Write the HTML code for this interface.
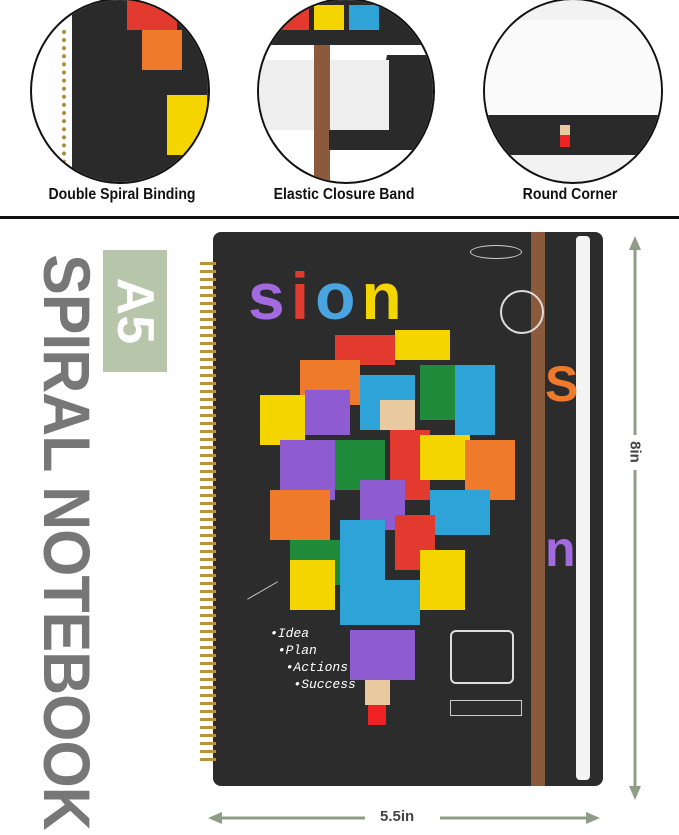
<!DOCTYPE html>
<html><head><style>
body{margin:0;width:679px;height:835px;background:#fff;position:relative;overflow:hidden;font-family:"Liberation Sans",sans-serif}
.a{position:absolute}
.c{position:absolute;border:2px solid #111;border-radius:50%;overflow:hidden;background:#2b2b2b}
.lab{position:absolute;top:186px;font-weight:bold;font-size:16px;color:#111;width:230px;text-align:center;transform:scaleX(0.88)}
.b{position:absolute}
</style></head><body>
<div class="c" style="left:30px;top:-2px;width:176px;height:182px;background:#fff">
 <div class="a" style="left:40px;top:0;width:140px;height:182px;background:#2a2a2a"></div>
 <div class="a" style="left:110px;top:30px;width:40px;height:40px;background:#f07a2c"></div>
 <div class="a" style="left:95px;top:0;width:50px;height:30px;background:#e23a2e"></div>
 <div class="a" style="left:135px;top:95px;width:40px;height:60px;background:#f4d500"></div>
 <div class="a" style="left:30px;top:30px;width:18px;height:150px;border-left:4px dotted #b08a3a"></div>
</div>
<div class="c" style="left:257px;top:-2px;width:174px;height:182px;background:#fff">
 <div class="a" style="left:0;top:0;width:174px;height:45px;background:#2a2a2a"></div>
 <div class="a" style="left:20px;top:5px;width:30px;height:25px;background:#e23a2e"></div>
 <div class="a" style="left:55px;top:5px;width:30px;height:25px;background:#f4d500"></div>
 <div class="a" style="left:90px;top:5px;width:30px;height:25px;background:#2ea3d8"></div>
 <div class="a" style="left:120px;top:55px;width:60px;height:90px;background:#2a2a2a;transform:skewX(-10deg)"></div>
 <div class="a" style="left:0;top:60px;width:130px;height:70px;background:#eee"></div>
 <div class="a" style="left:55px;top:45px;width:16px;height:140px;background:#8a5a3a"></div>
 <div class="a" style="left:70px;top:130px;width:90px;height:20px;background:#2a2a2a"></div>
</div>
<div class="c" style="left:483px;top:-2px;width:176px;height:182px;background:#f2f2f2">
 <div class="a" style="left:0;top:20px;width:176px;height:95px;background:#fafafa;border-bottom:3px solid #ccc"></div>
 <div class="a" style="left:0;top:115px;width:176px;height:40px;background:#2a2a2a"></div>
 <div class="a" style="left:75px;top:125px;width:10px;height:10px;background:#e8c9a0"></div>
 <div class="a" style="left:75px;top:135px;width:10px;height:12px;background:#e22"></div>
</div>
<div class="lab" style="left:7px">Double Spiral Binding</div>
<div class="lab" style="left:229px">Elastic Closure Band</div>
<div class="lab" style="left:455px">Round Corner</div>
<div class="a" style="left:0;top:216px;width:679px;height:3px;background:#111"></div>

<div class="a" style="left:103px;top:250px;width:64px;height:122px;background:#b7c6ab"></div>
<div class="a" style="left:135px;top:311px;transform:translate(-50%,-50%) rotate(90deg);font-weight:bold;font-size:52px;color:#fff;white-space:nowrap">A5</div>
<div class="a" style="left:67px;top:542px;transform:translate(-50%,-50%) rotate(90deg) scaleX(0.92);font-weight:bold;font-size:66px;color:#777;white-space:nowrap;letter-spacing:-1px">SPIRAL NOTEBOOK</div>

<div class="a" style="left:213px;top:232px;width:390px;height:554px;background:#2c2c2c;border-radius:8px"></div>
<div class="a" style="left:576px;top:236px;width:14px;height:544px;background:#f4f4f4;border-radius:4px"></div>
<div class="a" style="left:200px;top:262px;width:16px;height:500px;background:repeating-linear-gradient(#b8923e 0 3px,transparent 3px 8px)"></div>
<div class="a" style="left:531px;top:232px;width:14px;height:554px;background:#8b5a3a"></div>
<div class="a" style="left:248px;top:258px;font-weight:bold;font-size:66px;white-space:nowrap;letter-spacing:6px"><span style="color:#a36ae0">s</span><span style="color:#e23a2e">i</span><span style="color:#4aa4e0">o</span><span style="color:#f4d500">n</span></div>
<div class="a" style="left:545px;top:355px;font-weight:bold;font-size:50px;color:#f07a2c">S</div>
<div class="a" style="left:545px;top:520px;font-weight:bold;font-size:50px;color:#a36ae0">n</div>
<!-- blocks -->
<div class="b" style="left:335px;top:335px;width:60px;height:30px;background:#e23a2e"></div>
<div class="b" style="left:395px;top:330px;width:55px;height:30px;background:#f4d500"></div>
<div class="b" style="left:300px;top:360px;width:60px;height:45px;background:#f07a2c"></div>
<div class="b" style="left:360px;top:375px;width:55px;height:55px;background:#2ea3d8"></div>
<div class="b" style="left:420px;top:365px;width:45px;height:55px;background:#1f8a3a"></div>
<div class="b" style="left:455px;top:365px;width:40px;height:70px;background:#2ea3d8"></div>
<div class="b" style="left:260px;top:395px;width:45px;height:50px;background:#f4d500"></div>
<div class="b" style="left:305px;top:390px;width:45px;height:45px;background:#8e5bd0"></div>
<div class="b" style="left:380px;top:400px;width:35px;height:30px;background:#e8c9a0"></div>
<div class="b" style="left:280px;top:440px;width:55px;height:60px;background:#8e5bd0"></div>
<div class="b" style="left:335px;top:440px;width:50px;height:50px;background:#1f8a3a"></div>
<div class="b" style="left:390px;top:430px;width:40px;height:70px;background:#e23a2e"></div>
<div class="b" style="left:420px;top:435px;width:50px;height:45px;background:#f4d500"></div>
<div class="b" style="left:465px;top:440px;width:50px;height:60px;background:#f07a2c"></div>
<div class="b" style="left:270px;top:490px;width:60px;height:50px;background:#f07a2c"></div>
<div class="b" style="left:360px;top:480px;width:45px;height:50px;background:#8e5bd0"></div>
<div class="b" style="left:430px;top:490px;width:60px;height:45px;background:#2ea3d8"></div>
<div class="b" style="left:290px;top:540px;width:50px;height:45px;background:#1f8a3a"></div>
<div class="b" style="left:340px;top:520px;width:45px;height:60px;background:#2ea3d8"></div>
<div class="b" style="left:395px;top:515px;width:40px;height:55px;background:#e23a2e"></div>
<div class="b" style="left:420px;top:550px;width:45px;height:60px;background:#f4d500"></div>
<div class="b" style="left:290px;top:560px;width:45px;height:50px;background:#f4d500"></div>
<div class="b" style="left:340px;top:580px;width:80px;height:45px;background:#2ea3d8"></div>
<div class="b" style="left:350px;top:630px;width:65px;height:50px;background:#8e5bd0"></div>
<div class="b" style="left:365px;top:680px;width:25px;height:25px;background:#e8c9a0"></div>
<div class="b" style="left:368px;top:705px;width:18px;height:20px;background:#e22"></div>
<div class="a" style="left:270px;top:625px;color:#fff;font-style:italic;font-size:13px;line-height:17px;font-family:'Liberation Mono',monospace">•Idea<br>&nbsp;•Plan<br>&nbsp;&nbsp;•Actions<br>&nbsp;&nbsp;&nbsp;•Success</div>
<div class="a" style="left:450px;top:630px;width:60px;height:50px;border:2px solid #ddd;border-radius:6px"></div>
<div class="a" style="left:500px;top:290px;width:40px;height:40px;border:2px solid #ddd;border-radius:50%"></div>
<div class="a" style="left:470px;top:245px;width:50px;height:12px;border:1px solid #ccc;border-radius:50%"></div>
<div class="a" style="left:450px;top:700px;width:70px;height:14px;border:1px solid #ccc"></div>
<div class="a" style="left:245px;top:590px;width:35px;height:1px;background:#ccc;transform:rotate(-30deg)"></div>

<!-- dimensions -->
<svg class="a" style="left:0;top:0" width="679" height="835">
<g stroke="#8f9c86" stroke-width="3" fill="#8f9c86">
<line x1="635" y1="245" x2="635" y2="435"/><line x1="635" y1="470" x2="635" y2="792"/>
<polygon points="635,236 629,250 641,250" stroke="none"/>
<polygon points="635,800 629,786 641,786" stroke="none"/>
<line x1="218" y1="818" x2="365" y2="818"/><line x1="440" y1="818" x2="592" y2="818"/>
<polygon points="208,818 222,812 222,824" stroke="none"/>
<polygon points="600,818 586,812 586,824" stroke="none"/>
</g></svg>
<div class="a" style="left:635px;top:452px;transform:translate(-50%,-50%) rotate(90deg);font-weight:bold;font-size:15px;color:#444">8in</div>
<div class="a" style="left:380px;top:808px;font-weight:bold;font-size:15px;color:#444">5.5in</div>
</body></html>
